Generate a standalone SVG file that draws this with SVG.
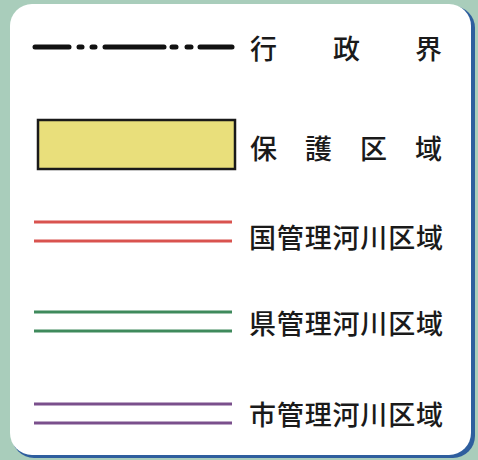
<svg xmlns="http://www.w3.org/2000/svg" width="478" height="460" viewBox="0 0 478 460">
<style>
.lbl{font-family:"Noto Sans CJK JP","Noto Sans CJK SC",sans-serif;font-size:27px;font-weight:500;fill:#1a1a1a;dominant-baseline:central}
.dl{stroke-width:2.8;fill:none}
</style>
<rect x="0" y="0" width="478" height="460" fill="#a9cdbb"/>
<rect x="12" y="6" width="463" height="452" rx="22" fill="#2e5e9e"/>
<rect x="10" y="4" width="461" height="451" rx="22" fill="#ffffff"/>
<g id="connectors">
<g id="gyosei-line" stroke="#111" stroke-width="5" stroke-linecap="round">
<line x1="35" y1="47" x2="69" y2="47"/>
<line x1="79" y1="47" x2="82" y2="47"/>
<line x1="92" y1="47" x2="95" y2="47"/>
<line x1="105" y1="47" x2="164" y2="47"/>
<line x1="172" y1="47" x2="176" y2="47"/>
<line x1="187" y1="47" x2="191" y2="47"/>
<line x1="200" y1="47" x2="232" y2="47"/>
</g>
<g id="kuni-lines" class="dl" stroke="#d9534f">
<line x1="34" y1="222" x2="232" y2="222"/>
<line x1="34" y1="241" x2="232" y2="241"/>
</g>
<g id="ken-lines" class="dl" stroke="#3f8a5c">
<line x1="34" y1="312" x2="232" y2="312"/>
<line x1="34" y1="331" x2="232" y2="331"/>
</g>
<g id="shi-lines" class="dl" stroke="#7a4f8c">
<line x1="34" y1="404" x2="232" y2="404"/>
<line x1="34" y1="423" x2="232" y2="423"/>
</g>
</g>
<g id="hogo-box"><rect x="38" y="120" width="197" height="49" fill="#e9df7b" stroke="#1a1a1a" stroke-width="2.5"/></g>
<g id="label-gyosei"><text class="lbl" y="47"><tspan x="250">行</tspan><tspan x="333">政</tspan><tspan x="415">界</tspan></text></g>
<g id="label-hogo"><text class="lbl" y="147"><tspan x="250">保</tspan><tspan x="305">護</tspan><tspan x="360">区</tspan><tspan x="415">域</tspan></text></g>
<g id="label-kuni"><text class="lbl" x="249" y="236" textLength="194">国管理河川区域</text></g>
<g id="label-ken"><text class="lbl" x="249" y="322" textLength="194">県管理河川区域</text></g>
<g id="label-shi"><text class="lbl" x="249" y="413" textLength="194">市管理河川区域</text></g>
</svg>
